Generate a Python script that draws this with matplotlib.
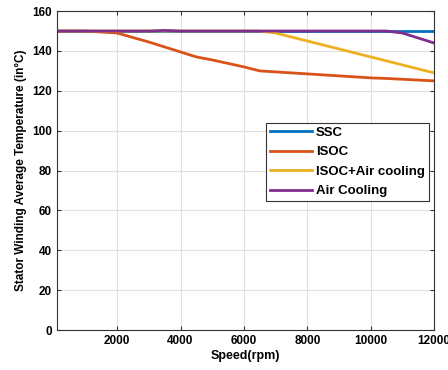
import numpy as np
import matplotlib
matplotlib.use("Agg")
import matplotlib.pyplot as plt

plt.rcParams['font.family'] = ['Liberation Sans', 'DejaVu Sans']
plt.rcParams['font.weight'] = 'bold'

# Data
speed = [100, 1000, 2000, 3000, 3500, 4000, 4500, 5000, 6000, 6500, 7000, 8000, 9000, 10000, 10500, 11000, 12000]
ssc = [150] * len(speed)
isoc = [150, 150, 149, 144.5, 142, 139.5, 137, 135.5, 132, 130, 129.5, 128.5, 127.5, 126.5, 126.2, 125.8, 125]
isoc_air = [150, 150, 150, 150, 150, 150, 150, 150, 150, 150, 149, 145, 141, 137, 135, 133, 129]
air = [150, 150, 150, 150, 150.3, 150, 150, 150, 150, 150, 150, 150, 150, 150, 150, 149, 144]

labels = ['SSC', 'ISOC', 'ISOC+Air cooling', 'Air Cooling']
colors = ['#0072BD', '#D95319', '#EDB120', '#7E2F8E']

fig = plt.figure(figsize=(4.48, 3.7), dpi=100)
ax = fig.add_axes([0.127, 0.108, 0.842, 0.862])

for y, lab, c in zip([ssc, isoc, isoc_air, air], labels, colors):
    ax.plot(speed, y, color=c, linewidth=2, label=lab)

ax.set_xlim(100, 12000)
ax.set_ylim(0, 160)
ax.set_xticks([2000, 4000, 6000, 8000, 10000, 12000])
ax.set_yticks(range(0, 161, 20))
ax.grid(True, color='#e0e0e0', linewidth=0.8)
ax.set_axisbelow(True)
ax.tick_params(labelsize=8.5, direction='in', length=3, top=True, right=True, color='#333333')
for s in ax.spines.values():
    s.set_color('#333333')
    s.set_linewidth(0.8)

ax.set_xlabel('Speed(rpm)', fontsize=9, fontweight='bold', labelpad=2)
ax.set_ylabel('Stator Winding Average Temperature (in°C)', fontsize=8.5, fontweight='bold', labelpad=4)

leg = ax.legend(loc='upper left', bbox_to_anchor=(0.554, 0.65), fontsize=9.5, frameon=True,
                fancybox=False, edgecolor='#333333', framealpha=1, handlelength=3.2,
                borderpad=0.3, labelspacing=0.55, handletextpad=0.3, borderaxespad=0)
leg.get_frame().set_linewidth(0.8)

fig.savefig('out.png', dpi=100)
